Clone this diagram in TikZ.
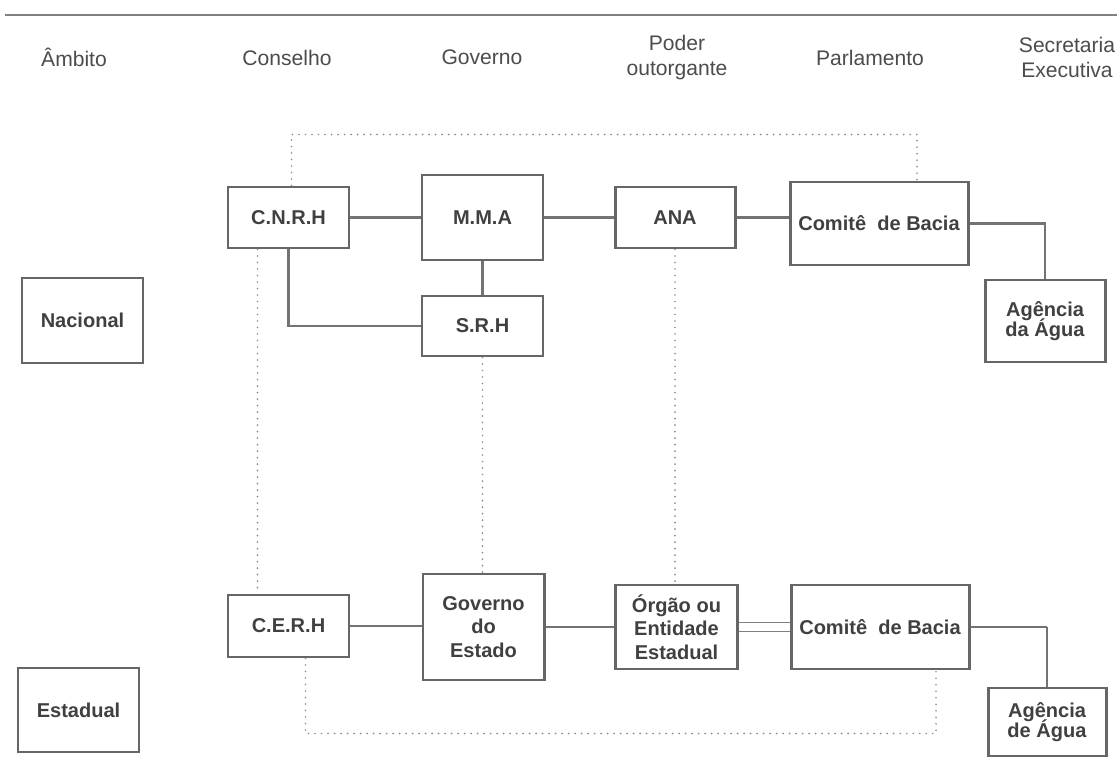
\documentclass[tikz,border=0pt]{standalone}
\usepackage{fontspec}
\setmainfont{Liberation Sans}

\begin{document}
\begin{tikzpicture}[
    % Styles
    body/.style={draw=black!60, line width=1.7pt, text=black!75, font=\fontsize{11.4}{13.4}\selectfont\bfseries, align=center, inner sep=0pt, minimum width=2.42cm},
    header/.style={text=black!70, font=\fontsize{12}{14}\selectfont, align=center},
    solid-link/.style={draw=black!55, line width=1.4pt},
    thin-link/.style={draw=black!55, line width=0.8pt},
    double-link/.style={draw=black!50, line width=0.6pt, double, double distance=5pt},
    dotted-link/.style={draw=black!45, line width=1.1pt, line cap=round, dash pattern=on 0pt off 3.7pt},
]
\useasboundingbox (0, 0) rectangle (22.34, -15.16);

% Header
\draw[draw=black!50, line width=1.7pt] (0.1, -0.3) -- (22.34, -0.3);
\node[header] (h-ambito) at (1.48, -1.15) {Âmbito};
\node[header] (h-conselho) at (5.74, -1.15) {Conselho};
\node[header] (h-governo) at (9.64, -1.15) {Governo};
\node[header] (h-poder) at (13.54, -1.15) {Poder\\outorgante};
\node[header] (h-parlamento) at (17.4, -1.15) {Parlamento};
\node[header] (h-secretaria) at (21.34, -1.15) {Secretaria\\Executiva};

% Levels
\node[body, minimum height=1.7cm] (nacional) at (1.65, -6.41) {Nacional};
\node[body, minimum height=1.68cm] (estadual) at (1.57, -14.2) {Estadual};

% National level
\node[body, minimum height=1.22cm] (cnrh) at (5.77, -4.35) {C.N.R.H};
\node[body, minimum height=1.7cm] (mma) at (9.65, -4.35) {M.M.A};
\node[body, minimum height=1.2cm] (srh) at (9.65, -6.52) {S.R.H};
\node[body, minimum height=1.22cm, minimum width=2.4cm] (ana) at (13.5, -4.35) {ANA};
\node[body, minimum height=1.66cm, minimum width=3.56cm] (comite-n) at (17.58, -4.47) {Comitê\ \ de Bacia};
\node[body, minimum height=1.64cm, minimum width=2.4cm] (agencia-n) at (20.9, -6.42) {Agência\\[-2pt]da Água};

\draw[solid-link] (cnrh) -- (mma);
\draw[solid-link] (mma) -- (ana);
\draw[solid-link] (ana.east) -- (ana.east -| comite-n.west);
\draw[solid-link] (mma) -- (srh);
\draw[solid-link] (cnrh.south) |- (srh.west);
\draw[solid-link] (comite-n.east) -| (agencia-n.north);

% State level
\node[body, minimum height=1.24cm] (cerh) at (5.77, -12.52) {C.E.R.H};
\node[body, minimum height=2.12cm] (gov-estado) at (9.67, -12.54) {Governo\\do\\Estado};
\node[body, minimum height=1.68cm, minimum width=2.44cm] (orgao) at (13.53, -12.54) {Órgão ou\\Entidade\\Estadual};
\node[body, minimum height=1.68cm, minimum width=3.56cm] (comite-e) at (17.6, -12.54) {Comitê\ \ de Bacia};
\node[body, minimum height=1.36cm, minimum width=2.36cm] (agencia-e) at (20.94, -14.44) {Agência\\[-2pt]de Água};

\draw[solid-link] (cerh.east) -- (cerh.east -| gov-estado.west);
\draw[solid-link] (gov-estado.east) -- (gov-estado.east -| orgao.west);
\draw[double-link] (orgao.east) -- (orgao.east -| comite-e.west);
\draw[thin-link] (comite-e.east) -- (comite-e.east -| agencia-e);
\draw[solid-link] (comite-e.east -| agencia-e) -- (agencia-e.north);

% Dotted links between levels
\draw[dotted-link] ([xshift=-0.62cm]cnrh.south) -- ([xshift=-0.62cm]cerh.north);
\draw[dotted-link] (srh.south) -- (srh.south |- gov-estado.north);
\draw[dotted-link] (ana.south) -- (ana.south |- orgao.north);
\draw[dotted-link] ([xshift=0.06cm]cnrh.north) -- ++(0, 1.02) -| ([xshift=0.76cm]comite-n.north);
\draw[dotted-link] ([xshift=0.34cm]cerh.south) -- ++(0, -1.5) -| ([xshift=1.12cm]comite-e.south);

\end{tikzpicture}
\end{document}
